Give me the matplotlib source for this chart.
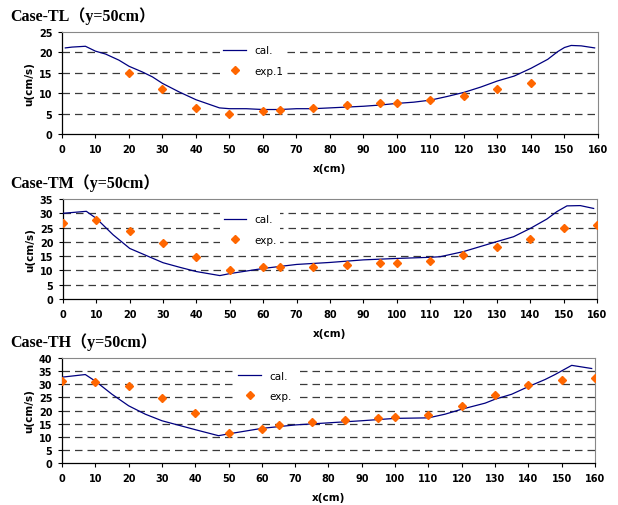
import numpy as np
import matplotlib.pyplot as plt

# computed profiles (cal.) and measured points (exp.) at y=50cm
tl_cal_x = [1, 3, 7, 10, 13, 17, 20, 24, 27, 30, 35, 40, 47, 50, 55, 60, 65, 70, 75, 80, 85, 90, 95,
            100, 105, 110, 115, 120, 125, 130, 135, 140, 145, 148, 150, 152, 155, 159]
tl_cal_u = [21.1, 21.3, 21.5, 20.3, 19.6, 18.1, 16.6, 15.2, 14.0, 12.4, 10.3, 8.4, 6.4, 6.2, 6.2, 6.0,
            6.0, 6.2, 6.2, 6.4, 6.6, 6.8, 7.1, 7.5, 7.8, 8.3, 9.2, 10.2, 11.5, 13.0, 14.2, 16.1, 18.3,
            20.2, 21.2, 21.7, 21.6, 21.1]
tl_exp_x = [20, 30, 40, 50, 60, 65, 75, 85, 95, 100, 110, 120, 130, 140]
tl_exp_u = [14.9, 11.0, 6.4, 5.0, 5.6, 6.0, 6.4, 7.0, 7.7, 7.7, 8.3, 9.3, 11.0, 12.5]

tm_cal_x = [0, 7, 10, 15, 20, 25, 30, 35, 40, 47, 50, 60, 70, 80, 90, 100, 110, 113, 120, 130, 135,
            140, 145, 148, 151, 155, 159]
tm_cal_u = [30.0, 30.7, 28.2, 22.5, 17.7, 15.2, 12.7, 11.1, 9.6, 8.2, 8.9, 10.7, 12.1, 12.8, 13.7, 14.2,
            14.6, 14.8, 16.6, 20.1, 21.8, 24.7, 28.0, 30.6, 32.6, 32.7, 31.7]
tm_exp_x = [0, 10, 20, 30, 40, 50, 60, 65, 75, 85, 95, 100, 110, 120, 130, 140, 150, 160]
tm_exp_u = [26.7, 27.6, 23.9, 19.5, 14.6, 10.2, 11.2, 11.2, 11.2, 11.9, 12.7, 12.7, 13.3, 15.4, 18.3,
            21.1, 24.7, 25.9]

th_cal_x = [0, 7, 10, 15, 20, 25, 30, 40, 47, 50, 60, 70, 80, 90, 100, 110, 115, 120, 127, 130, 135,
            140, 145, 148, 153, 159]
th_cal_u = [32.7, 33.7, 31.2, 26.2, 21.8, 18.6, 16.1, 12.7, 10.4, 11.1, 13.2, 14.5, 15.3, 16.1, 17.0,
            17.2, 18.6, 20.5, 22.8, 24.3, 26.2, 29.1, 31.8, 33.7, 37.2, 36.0]
th_exp_x = [0, 10, 20, 30, 40, 50, 60, 65, 75, 85, 95, 100, 110, 120, 130, 140, 150, 160]
th_exp_u = [31.4, 30.8, 29.3, 24.9, 18.9, 11.4, 13.0, 14.5, 15.6, 16.5, 17.1, 17.6, 18.2, 21.8, 25.8,
            29.6, 31.8, 32.5]

panels = [
    ("Case-TL（y=50cm）", tl_cal_x, tl_cal_u, tl_exp_x, tl_exp_u, "exp.1", 25),
    ("Case-TM（y=50cm）", tm_cal_x, tm_cal_u, tm_exp_x, tm_exp_u, "exp.", 35),
    ("Case-TH（y=50cm）", th_cal_x, th_cal_u, th_exp_x, th_exp_u, "exp.", 40),
]

# axes boxes in figure fraction (left, bottom, width, height)
boxes = [
    [0.1003, 0.7332, 0.8673, 0.2016],
    [0.1019, 0.4071, 0.8641, 0.1976],
    [0.1003, 0.0830, 0.8625, 0.2075],
]
legend_anchor = [(0.285, 0.95), (0.285, 0.93), (0.315, 0.96)]

fig = plt.figure(figsize=(6.18, 5.06), dpi=100)
title_font = ['Liberation Serif', 'Noto Sans CJK JP']

for i, (title, cx, cu, ex, eu, elab, ymax) in enumerate(panels):
    ax = fig.add_axes(boxes[i])
    for yv in range(5, ymax, 5):
        ax.axhline(yv, color='#3a3a3a', lw=0.9, ls=(0, (6, 4)), zorder=1)
    ax.plot(cx, cu, color='#000080', lw=0.9, label='cal.', zorder=3)
    ax.plot(ex, eu, ls='none', marker='D', ms=4.2, color='#ff6600', label=elab, zorder=4)
    ax.set_xlim(0, 160)
    ax.set_ylim(0, ymax)
    ax.set_xticks(np.arange(0, 161, 10))
    ax.set_yticks(np.arange(0, ymax + 1, 5))
    ax.tick_params(labelsize=7, length=3, width=0.8, direction='out', pad=4)
    for lab in ax.get_xticklabels() + ax.get_yticklabels():
        lab.set_fontweight('bold')
    ax.spines['top'].set_color('#888888')
    ax.spines['right'].set_color('#888888')
    ax.spines['left'].set_linewidth(0.9)
    ax.spines['bottom'].set_linewidth(0.9)
    ax.set_ylabel("u(cm/s)", fontsize=7.5, fontweight='bold', labelpad=3)
    ax.set_xlabel("x(cm)", fontsize=7.5, fontweight='bold', labelpad=7)
    leg = ax.legend(loc='upper left', bbox_to_anchor=legend_anchor[i], fontsize=7.5,
                    frameon=True, facecolor='white', edgecolor='none', framealpha=1,
                    handlelength=2.2, labelspacing=1.0, borderpad=0.3, fancybox=False)
    leg.set_zorder(5)
    fig.text(0.016, boxes[i][1] + boxes[i][3] + 0.016, title, fontsize=11.5,
             fontweight='bold', family=title_font, va='bottom', ha='left')

fig.savefig("out.png", dpi=100)
